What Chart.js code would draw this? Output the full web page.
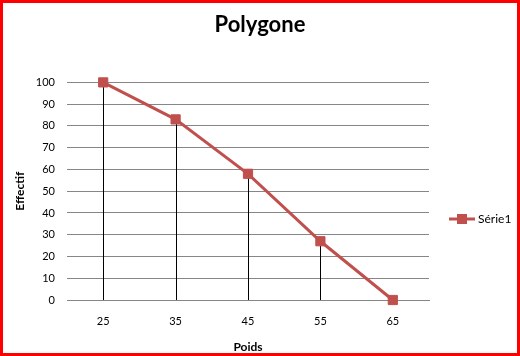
<!DOCTYPE html>
<html>
<head>
<meta charset="utf-8">
<script src="https://cdn.jsdelivr.net/npm/chart.js@4.4.0/dist/chart.umd.min.js"></script>
<style>
html,body{margin:0;padding:0;background:#fff;}
#wrap{width:520px;height:356px;position:relative;}
</style>
</head>
<body>
<div id="wrap"><canvas id="c" width="520" height="356"></canvas></div>
<script>
const categories = ['25', '35', '45', '55', '65'];
const serie1 = [100, 83, 58, 27, 0];
const seriesName = 'Série1';
const chartTitle = 'Polygone';
const xTitle = 'Poids';
const yTitle = 'Effectif';

const FONT = 'Lato, "Liberation Sans", sans-serif';
const RED = '#C0504D';

const dropLines = {
  id: 'dropLines',
  beforeDatasetsDraw(chart) {
    const meta = chart.getDatasetMeta(0);
    const yScale = chart.scales.y;
    const base = yScale.getPixelForValue(0);
    const ctx = chart.ctx;
    ctx.save();
    ctx.strokeStyle = '#000';
    ctx.lineWidth = 1;
    meta.data.forEach((pt) => {
      const x = Math.round(pt.x) + 0.5;
      ctx.beginPath();
      ctx.moveTo(x, pt.y);
      ctx.lineTo(x, base);
      ctx.stroke();
    });
    ctx.restore();
  }
};

const frameAndLegend = {
  id: 'frameAndLegend',
  afterDraw(chart) {
    const ctx = chart.ctx;
    ctx.save();
    const ly = 219;
    ctx.strokeStyle = RED;
    ctx.lineWidth = 3;
    ctx.beginPath();
    ctx.moveTo(449, ly);
    ctx.lineTo(475, ly);
    ctx.stroke();
    ctx.fillStyle = RED;
    ctx.fillRect(457, ly - 5, 10, 10);
    ctx.fillStyle = '#000';
    ctx.font = '12px ' + FONT;
    ctx.textBaseline = 'middle';
    ctx.textAlign = 'left';
    ctx.fillText(seriesName, 478, ly);
    ctx.strokeStyle = '#FF0000';
    ctx.lineWidth = 3;
    ctx.strokeRect(1.5, 1.5, 517, 353);
    ctx.restore();
  }
};

new Chart(document.getElementById('c'), {
  type: 'line',
  data: {
    labels: categories,
    datasets: [{
      label: seriesName,
      data: serie1,
      borderColor: RED,
      backgroundColor: RED,
      borderWidth: 3,
      pointStyle: 'rect',
      pointRadius: 6.5,
      pointBorderWidth: 1,
      pointBorderColor: RED,
      pointBackgroundColor: RED,
      tension: 0,
      clip: false,
      yAxisID: 'y'
    }]
  },
  options: {
    responsive: false,
    animation: false,
    devicePixelRatio: 1,
    layout: { padding: { left: 0, right: 0, top: 0, bottom: 0 } },
    plugins: {
      legend: { display: false },
      tooltip: { enabled: false },
      title: {
        display: true,
        text: chartTitle,
        color: '#000',
        font: { family: FONT, size: 22, weight: 'bold' },
        padding: { top: 12, bottom: 44 }
      }
    },
    scales: {
      x: {
        offset: true,
        grid: { display: false, drawTicks: false },
        border: { display: true, color: '#868686', width: 1 },
        ticks: { color: '#000', font: { family: FONT, size: 11 }, padding: 15 },
        title: {
          display: true, text: xTitle, color: '#000',
          font: { family: FONT, size: 12, weight: 'bold' },
          padding: { top: 0, bottom: 2 }
        },
        afterFit(s) { s.height = 56; }
      },
      y: {
        min: 0, max: 100,
        ticks: { stepSize: 10, color: '#000', font: { family: FONT, size: 11 }, padding: 12 },
        grid: { color: '#868686', lineWidth: 1, drawTicks: false },
        border: { display: false },
        title: {
          display: true, text: yTitle, color: '#000',
          font: { family: FONT, size: 12, weight: 'bold' },
          padding: { top: 13, bottom: 0 }
        },
        afterFit(s) { s.width = 67; }
      },
      legendSpace: {
        position: 'right',
        min: 0, max: 100,
        grid: { display: false, drawTicks: false },
        border: { display: false },
        ticks: { display: false },
        afterFit(s) { s.width = 91; }
      }
    }
  },
  plugins: [dropLines, frameAndLegend]
});
</script>
</body>
</html>
